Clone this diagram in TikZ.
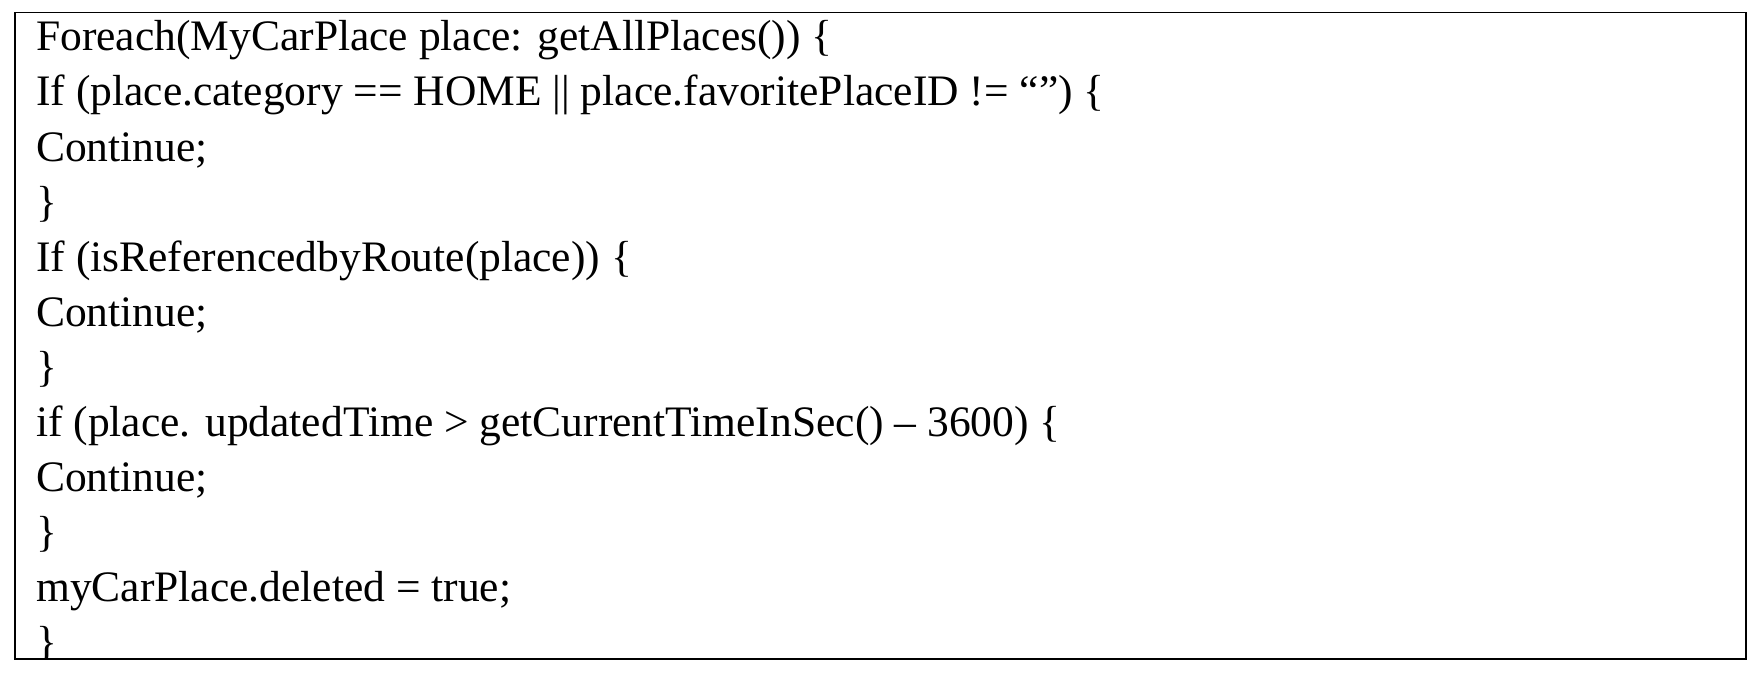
\documentclass[tikz,border=0pt]{standalone}
\usepackage{fontspec}
\setmainfont{Liberation Serif}
\begin{document}
\begin{tikzpicture}[x=1pt,y=-1pt]
\useasboundingbox (0,0) rectangle (1759,674);
\tikzset{codeline/.style={anchor=base west,inner sep=0pt,font=\fontsize{43.5}{48}\selectfont}}
\begin{scope}
\clip (14,12) rectangle (1745,658);
\foreach \t [count=\i] in {{Foreach(MyCarPlace place: getAllPlaces()) \{},
 {If (place.category == HOME || place.favoritePlaceID != “”) \{},
 {Continue;},{\}},
 {If (isReferencedbyRoute(place)) \{},
 {Continue;},{\}},
 {if (place. updatedTime > getCurrentTimeInSec() – 3600) \{},
 {Continue;},{\}},
 {myCarPlace.deleted = true;},{\}}}
 \node[codeline] (l\i) at (36,{51+(\i-1)*55}) {\t};
\end{scope}
\node[draw,line width=1.5pt,minimum width=1731pt,minimum height=646pt,anchor=north west,inner sep=0pt] (box) at (14,12) {};
\end{tikzpicture}
\end{document}
